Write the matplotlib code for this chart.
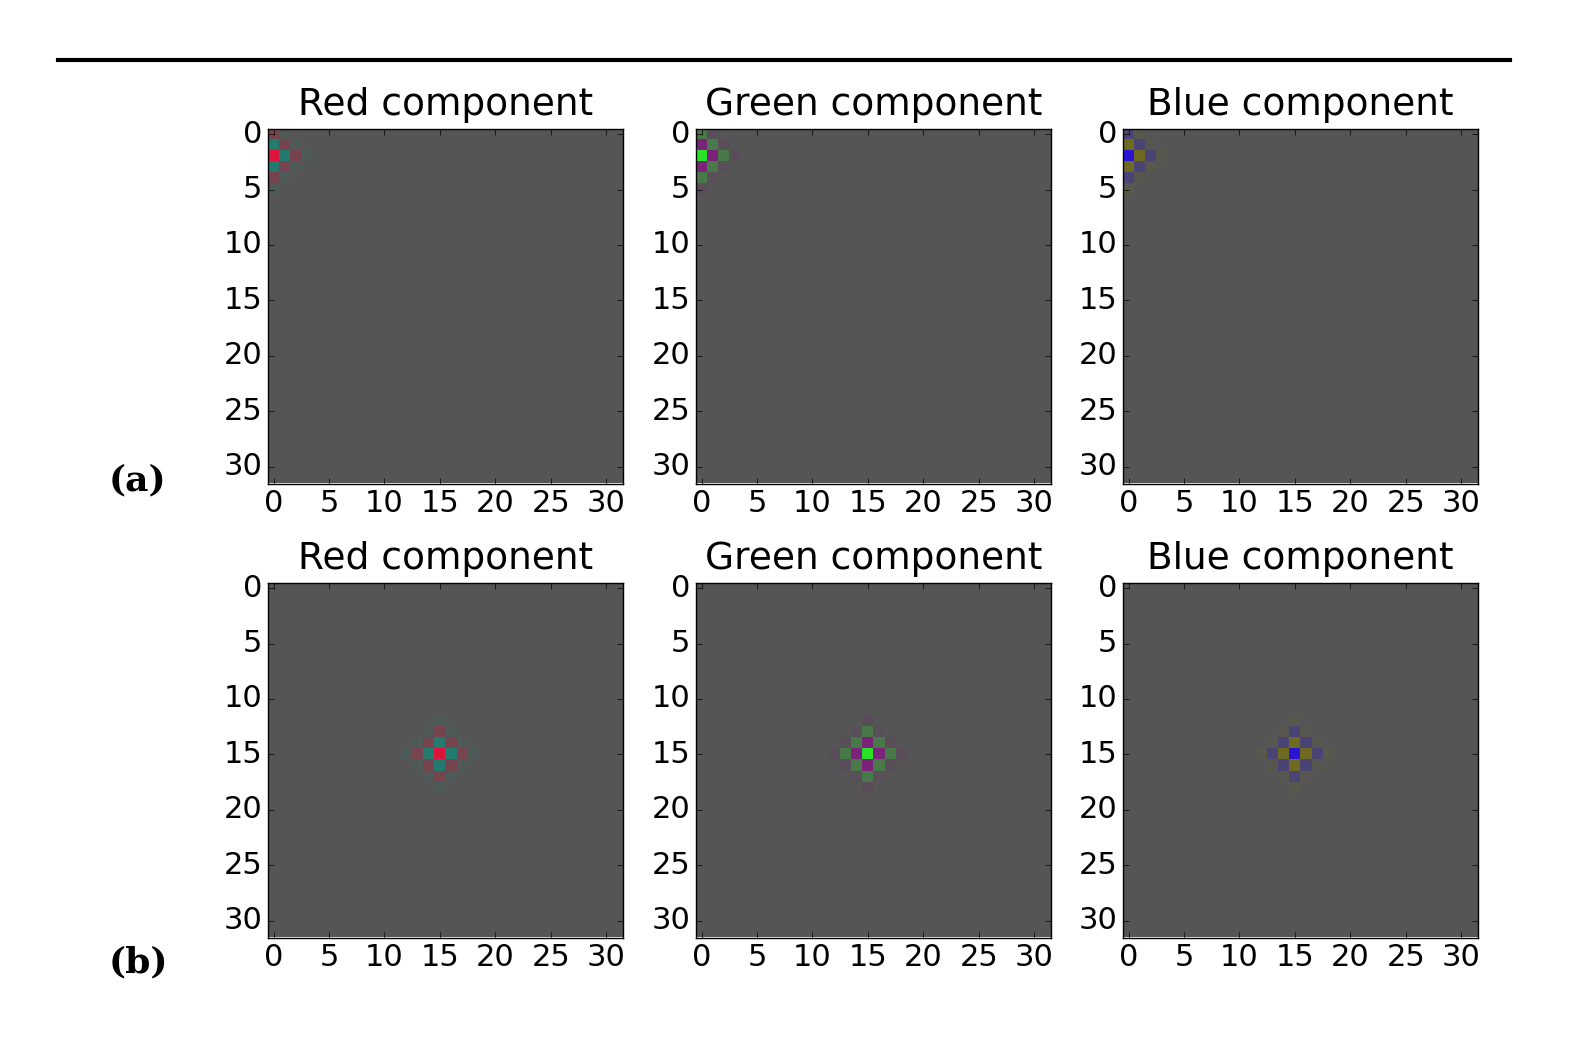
import numpy as np
import matplotlib.pyplot as plt
from matplotlib.lines import Line2D

# amplitude kernel (7x7, centred); sign picks the colour
kernel = np.array([
    [0.0, 0.0, 0.0, -0.12, 0.0, 0.0, 0.0],
    [0.0, 0.0, -0.1, 0.25, -0.1, 0.0, 0.0],
    [0.0, -0.1, 0.25, -0.85, 0.25, -0.1, 0.0],
    [-0.12, 0.25, -0.85, 1.0, -0.85, 0.25, -0.12],
    [0.0, -0.1, 0.25, -0.85, 0.25, -0.1, 0.0],
    [0.0, 0.0, -0.1, 0.25, -0.1, 0.0, 0.0],
    [0.0, 0.0, 0.0, -0.12, 0.0, 0.0, 0.0],
])
names = ['Red component', 'Green component', 'Blue component']
pos_colors = [(220, 20, 60), (40, 225, 40), (40, 20, 210)]
neg_colors = [(25, 130, 115), (130, 25, 130), (115, 110, 25)]
gray = np.array([85, 85, 85]) / 255.0
centres = [(2, 0), (15, 15)]  # (row, col) for (a) and (b)
N = 32

def make_image(centre, pc, nc):
    img = np.tile(gray, (N, N, 1))
    pc = np.array(pc) / 255.0
    nc = np.array(nc) / 255.0
    r0, c0 = centre
    for i in range(7):
        for j in range(7):
            r, c = r0 + i - 3, c0 + j - 3
            if 0 <= r < N and 0 <= c < N:
                a = kernel[i, j]
                col = pc if a > 0 else nc
                img[r, c] = gray + abs(a) * (col - gray)
    return img

plt.style.use('classic')
fig = plt.figure(figsize=(15.93, 10.56), dpi=100, facecolor='white')
lefts = [268, 696, 1123]
bottoms = [1056 - 484, 1056 - 938]
W, H = 1593.0, 1056.0
for r in range(2):
    for k in range(3):
        ax = fig.add_axes([lefts[k] / W, bottoms[r] / H, 355 / W, 356 / H])
        ax.imshow(make_image(centres[r], pos_colors[k], neg_colors[k]), interpolation='nearest')
        ax.set_title(names[k], fontsize=27, pad=10)
        ax.set_xticks(range(0, 31, 5))
        ax.set_yticks(range(0, 31, 5))
        ax.tick_params(labelsize=22, pad=4)
    fig.text(138 / W, 1 - (480 if r == 0 else 962) / H, '(a)' if r == 0 else '(b)',
             fontsize=26, fontweight='bold', family='DejaVu Serif', ha='center', va='center')

fig.add_artist(Line2D([58 / W, 1510 / W], [1 - 60 / H, 1 - 60 / H], color='black', lw=3))
fig.savefig('out.png', dpi=100, facecolor='white')
